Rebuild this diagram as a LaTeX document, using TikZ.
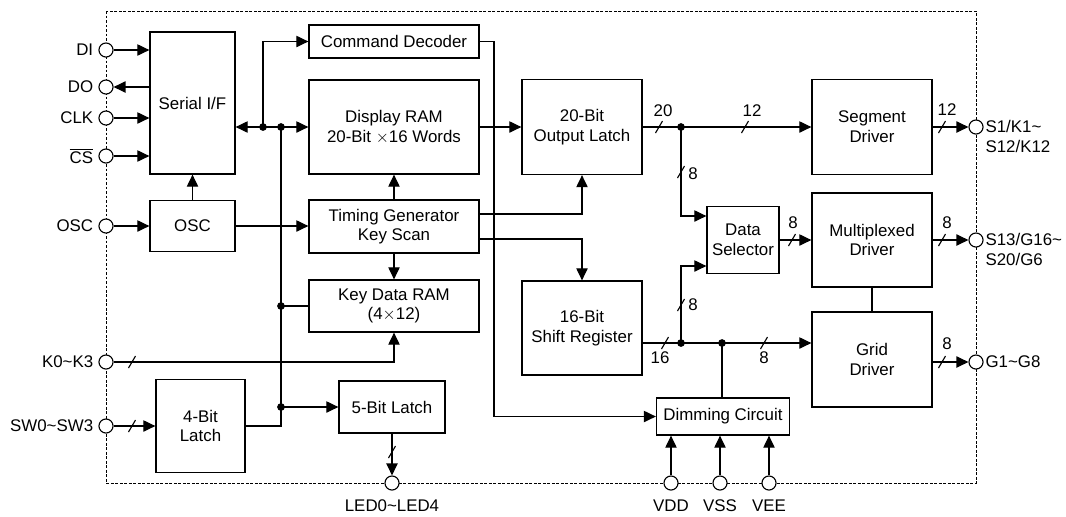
\documentclass[tikz,border=0pt]{standalone}
\usepackage{fontspec}
\setmainfont{Liberation Sans}
\usetikzlibrary{arrows.meta, positioning, calc}

\tikzset{
  blk/.style 2 args={draw, line width=0.9pt, align=center, inner sep=0pt,
    minimum width=#1*0.025cm, minimum height=#2*0.025cm},
  pin/.style={draw, circle, fill=white, line width=0.8pt, minimum size=10pt, inner sep=0pt},
  jdot/.style={circle, fill, inner sep=0pt, minimum size=5.5pt},
  sig/.style={-{Triangle[length=8.5pt, width=8pt]}},
  sigboth/.style={{Triangle[length=8.5pt, width=8pt]}-{Triangle[length=8.5pt, width=8pt]}},
  num/.style={inner sep=1pt},
}
\newcommand{\busmark}[1]{\draw (#1) ++(-3.5,6) -- ++(7,-12);}

\begin{document}
\begin{tikzpicture}[x=0.025cm, y=-0.025cm, line width=0.8pt, font=\fontsize{12}{14}\selectfont]
\useasboundingbox (0,0) rectangle (1066,516);
% chip outline
\draw[line width=0.6pt, dash pattern=on 2pt off 1.2pt] (106,11) rectangle (976,483);

% blocks
\node[blk={85}{142}] (sif) at (192.5,103) {Serial I/F};
\node[blk={85}{51}] (osc) at (192.5,226) {OSC};
\node[blk={170}{33}] (cmd) at (394,41.5) {Command Decoder};
\node[blk={170}{94}] (dram) at (394,127) {Display RAM\\20-Bit $\times$16 Words};
\node[blk={170}{53}] (tgen) at (394,226.5) {Timing Generator\\Key Scan};
\node[blk={170}{52}] (kram) at (394,306) {Key Data RAM\\(4$\times$12)};
\node[blk={106}{52}] (lat5) at (392,407) {5-Bit Latch};
\node[blk={89}{93}] (lat4) at (200.5,426) {4-Bit\\Latch};
\node[blk={120}{95}] (olat) at (582,127) {20-Bit\\Output Latch};
\node[blk={120}{94}] (sreg) at (582,328) {16-Bit\\Shift Register};
\node[blk={133}{37}] (dim) at (723,416.5) {Dimming Circuit};
\node[blk={120}{95}] (seg) at (872,127) {Segment\\Driver};
\node[blk={72}{67}] (dsel) at (743,240) {Data\\Selector};
\node[blk={120}{94}] (mux) at (872,240) {Multiplexed\\Driver};
\node[blk={120}{95}] (grid) at (872,359.5) {Grid\\Driver};

% pins
\node[pin, label=left:DI] (di) at (106,50) {};
\node[pin, label=left:DO] (do) at (106,87) {};
\node[pin, label=left:CLK] (clk) at (106,118) {};
\node[pin, label={left:$\overline{\mbox{CS}}$}] (cs) at (106,156) {};
\node[pin, label=left:OSC] (oscp) at (106,226) {};
\node[pin, label={left:K0\textasciitilde K3}] (kin) at (106,362) {};
\node[pin, label={left:SW0\textasciitilde SW3}] (swin) at (106,426) {};
\node[pin, label={[label distance=3pt]below:LED0\textasciitilde LED4}] (led) at (392,483) {};
\node[pin, label={[label distance=3pt]below:VDD}] (vdd) at (671,483) {};
\node[pin, label={[label distance=3pt]below:VSS}] (vss) at (720,483) {};
\node[pin, label={[label distance=3pt]below:VEE}] (vee) at (769,483) {};
\node[pin] (sout) at (976,127) {};
\node[pin] (mout) at (976,240) {};
\node[pin] (gout) at (976,362) {};
\node[anchor=west, align=left, inner sep=0pt] (soutl) at (985,136.5) {S1/K1\textasciitilde\\S12/K12};
\node[anchor=west, align=left, inner sep=0pt] (moutl) at (985,249.5) {S13/G16\textasciitilde\\S20/G6};
\node[anchor=west, inner sep=0pt] (goutl) at (985,362) {G1\textasciitilde G8};

% junctions
\node[jdot] (j1) at (263,127) {};
\node[jdot] (j2) at (281,127) {};
\node[jdot] (j3) at (281,306) {};
\node[jdot] (j4) at (281,407) {};
\node[jdot] (ja) at (681,127) {};
\node[jdot] (jb) at (681,343) {};
\node[jdot] (jc) at (722,343) {};

% left side
\draw[sig] (di) -- (sif.west |- di);
\draw[sig] (sif.west |- do) -- (do);
\draw[sig] (clk) -- (sif.west |- clk);
\draw[sig] (cs) -- (sif.west |- cs);
\draw[sig] (oscp) -- (osc.west);
\draw[sig] (osc.north) -- (sif.south);
\draw[sig] (osc.east) -- (tgen.west |- osc.east);
\draw[sigboth] (sif.east |- dram.west) -- (dram.west);
\draw[sig] (j1.center) |- (cmd.west);
\draw (j2.center) |- (lat4.east);
\draw (j3.center) -- (kram.west |- j3);
\draw[sig] (j4.center) -- (lat5.west);
\draw[sig] (kin) -| (kram.south);
\draw[sig] (swin) -- (lat4.west |- swin);
\draw[sig] (lat5.south) -- (led);
\busmark{132,362}
\busmark{132,426}
\busmark{392,452}

% middle
\draw[sig] (tgen.north) -- (dram.south);
\draw[sig] (tgen.south) -- (kram.north);
\draw[sig] (tgen.east |- 0,214) -| (olat.south);
\draw[sig] (tgen.east |- 0,239) -| (sreg.north);
\coordinate (cbend) at (494,416.5);
\draw[sig] (cmd.east) -| (cbend) -- (dim.west);
\draw[sig] (dram.east) -- (olat.west);

% right side
\draw (olat.east) -- (ja.center);
\draw[sig] (ja.center) -- (seg.west);
\draw[sig] (ja.center) |- (dsel.west |- 0,216);
\draw (sreg.east |- jb) -- (jb.center);
\draw[sig] (jb.center) -- (grid.west |- jb);
\draw[sig] (jb.center) |- (dsel.west |- 0,266);
\draw (jc.center) -- (jc |- dim.north);
\draw[sig] (dsel.east) -- (mux.west);
\draw (mux.south) -- (grid.north);
\draw[sig] (seg.east) -- (sout);
\draw[sig] (mux.east) -- (mout);
\draw[sig] (grid.east |- gout) -- (gout);
\draw[sig] (vdd) -- (dim.south -| vdd);
\draw[sig] (vss) -- (dim.south -| vss);
\draw[sig] (vee) -- (dim.south -| vee);

% bus widths
\busmark{659,127} \node[num] at (663,111) {20};
\busmark{745,127} \node[num] at (752,111) {12};
\busmark{681,172} \node[num] at (693,174) {8};
\busmark{792,240} \node[num] at (793,223) {8};
\busmark{942,127} \node[num] at (947,110) {12};
\busmark{942,240} \node[num] at (947,223) {8};
\busmark{665,343} \node[num] at (660,358) {16};
\busmark{681,305} \node[num] at (693,305) {8};
\busmark{764,343} \node[num] at (764,358) {8};
\busmark{942,362} \node[num] at (947,344) {8};
\end{tikzpicture}
\end{document}
